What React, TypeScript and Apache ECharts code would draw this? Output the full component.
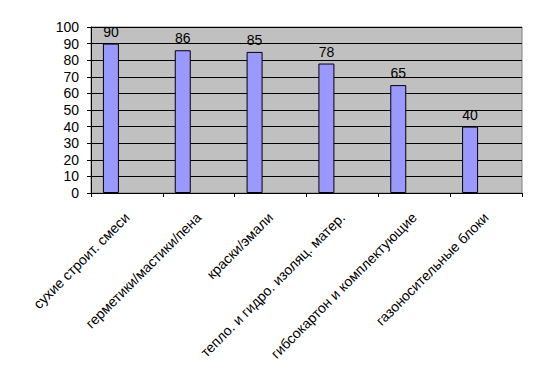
import React, { useEffect, useRef } from "react";
import * as echarts from "echarts";

const categories = [
  "сухие строит. смеси",
  "герметики/мастики/пена",
  "краски/эмали",
  "тепло. и гидро. изоляц. матер.",
  "гибсокартон и комплектующие",
  "газоносительные блоки",
];
const values = [90, 86, 85, 78, 65, 40];
const emptySeries = [null, null, null, null, null, null];
const yTicks = { min: 0, max: 100, interval: 10 };

export default function App() {
  const ref = useRef<HTMLDivElement>(null);
  useEffect(() => {
    const chart = echarts.init(ref.current!, null, { renderer: "svg" });
    const font = "'Liberation Sans', Arial, sans-serif";
    chart.setOption({
      animation: false,
      textStyle: { fontFamily: font },
      grid: {
        left: 83,
        top: 19,
        right: 16,
        bottom: 190,
        show: true,
        backgroundColor: "#C0C0C0",
        borderColor: "#808080",
        borderWidth: 1,
      },
      xAxis: {
        type: "category",
        data: categories,
        axisLine: { show: true, lineStyle: { color: "#000", width: 1 } },
        axisTick: { show: true, length: 4, lineStyle: { color: "#000" } },
        axisLabel: {
          rotate: 45,
          interval: 0,
          color: "#000",
          fontSize: 14,
          fontFamily: font,
          margin: 22,
        },
      },
      yAxis: {
        type: "value",
        min: yTicks.min,
        max: yTicks.max,
        interval: yTicks.interval,
        axisLine: { show: true, lineStyle: { color: "#000", width: 1 } },
        axisTick: { show: true, length: 4, lineStyle: { color: "#000" } },
        axisLabel: { color: "#000", fontSize: 14, fontFamily: font, margin: 12 },
        splitLine: { show: true, lineStyle: { color: "#000", width: 1 } },
      },
      series: [
        {
          type: "bar",
          data: values,
          barWidth: 16,
          barGap: "100%",
          itemStyle: { color: "#9999FF", borderColor: "#000", borderWidth: 1 },
          label: {
            show: true,
            position: "top",
            color: "#000",
            fontSize: 14,
            fontFamily: font,
            distance: 5,
          },
        },
        {
          type: "bar",
          data: emptySeries,
          barWidth: 16,
          barGap: "100%",
        },
      ],
    });
    return () => chart.dispose();
  }, []);
  return <div ref={ref} style={{ width: 530, height: 375 }} />;
}
